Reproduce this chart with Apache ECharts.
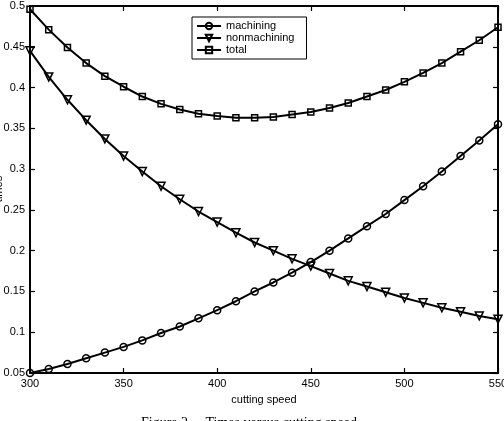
<!DOCTYPE html>
<html>
<head>
<meta charset="utf-8">
<script src="https://cdn.jsdelivr.net/npm/echarts@6/dist/echarts.min.js"></script>
<style>
  html, body { margin: 0; padding: 0; background: #fff; }
  #main { width: 504px; height: 421px; }
</style>
</head>
<body>
<div id="main"></div>
<script>
// cutting speed values (x)
const speeds = [300, 310, 320, 330, 340, 350, 360, 370, 380, 390, 400, 410, 420,
                430, 440, 450, 460, 470, 480, 490, 500, 510, 520, 530, 540, 550];
const machining = [0.050, 0.055, 0.061, 0.068, 0.075, 0.082, 0.090, 0.099, 0.107,
                   0.117, 0.127, 0.138, 0.150, 0.161, 0.173, 0.186, 0.200, 0.215,
                   0.230, 0.245, 0.262, 0.279, 0.297, 0.316, 0.335, 0.355];
const nonmachining = [0.445, 0.413, 0.385, 0.360, 0.337, 0.316, 0.297, 0.279, 0.263,
                      0.248, 0.235, 0.222, 0.210, 0.200, 0.190, 0.181, 0.172, 0.163,
                      0.156, 0.149, 0.142, 0.136, 0.130, 0.125, 0.120, 0.116];
const total = [0.496, 0.471, 0.449, 0.430, 0.414, 0.401, 0.389, 0.380, 0.373,
               0.368, 0.365, 0.363, 0.363, 0.364, 0.367, 0.370, 0.375, 0.381,
               0.389, 0.397, 0.407, 0.418, 0.430, 0.444, 0.458, 0.474];

const FONT = 'Liberation Sans';

function pairs(ys) {
  return speeds.map((x, i) => [x, ys[i]]);
}

function axisBase(showLabel) {
  return {
    type: 'value',
    axisLine: { show: true, onZero: false, lineStyle: { color: '#000', width: 2 } },
    axisTick: { show: true, inside: true, length: 5, lineStyle: { color: '#000', width: 1.2 } },
    axisLabel: { show: showLabel, color: '#000', fontSize: 11, fontFamily: FONT, margin: 5 },
    splitLine: { show: false }
  };
}

function lineSeries(name, ys, symbol, size, rotate) {
  return {
    name: name,
    type: 'line',
    data: pairs(ys),
    symbol: symbol,
    symbolSize: size,
    symbolRotate: rotate || 0,
    showAllSymbol: true,
    lineStyle: { color: '#000', width: 2 },
    itemStyle: { color: 'transparent', borderColor: '#000', borderWidth: 1.5 },
    emphasis: { disabled: true },
    z: 3
  };
}

const chart = echarts.init(document.getElementById('main'));
chart.setOption({
  animation: false,
  backgroundColor: '#fff',
  grid: { left: 30, right: 6, top: 6, bottom: 48, outerBoundsMode: 'none', containLabel: false },
  legend: {
    orient: 'vertical',
    left: 192,
    top: 17,
    itemWidth: 24,
    itemHeight: 8,
    itemGap: 0,
    padding: [3, 12, 3, 4],
    borderColor: '#000',
    borderWidth: 1,
    backgroundColor: '#fff',
    textStyle: { color: '#000', fontSize: 11, fontFamily: FONT, lineHeight: 12 },
    data: ['machining', 'nonmachining', 'total']
  },
  xAxis: [
    Object.assign(axisBase(true), {
      min: 300, max: 550, interval: 50, position: 'bottom',
      name: 'cutting speed', nameLocation: 'middle', nameGap: 21,
      nameTextStyle: { color: '#000', fontSize: 11, fontFamily: FONT }
    }),
    Object.assign(axisBase(false), { min: 300, max: 550, interval: 50, position: 'top' })
  ],
  yAxis: [
    Object.assign(axisBase(true), { min: 0.05, max: 0.5, interval: 0.05, position: 'left' }),
    Object.assign(axisBase(false), { min: 0.05, max: 0.5, interval: 0.05, position: 'right' })
  ],
  graphic: [
    {
      type: 'text', x: -1, y: 189, rotation: Math.PI / 2,
      style: { text: 'times', fill: '#000', font: '11px "Liberation Sans"', align: 'center', verticalAlign: 'middle' }
    },
    {
      type: 'text', x: 249, y: 416,
      style: { text: 'Figure 2.    Times versus cutting speed', fill: '#000', font: '14px "Liberation Serif"', align: 'center', verticalAlign: 'top' }
    }
  ],
  series: [
    lineSeries('machining', machining, 'circle', 7),
    lineSeries('nonmachining', nonmachining, 'triangle', 8, 180),
    lineSeries('total', total, 'rect', 6)
  ]
});
</script>
</body>
</html>
